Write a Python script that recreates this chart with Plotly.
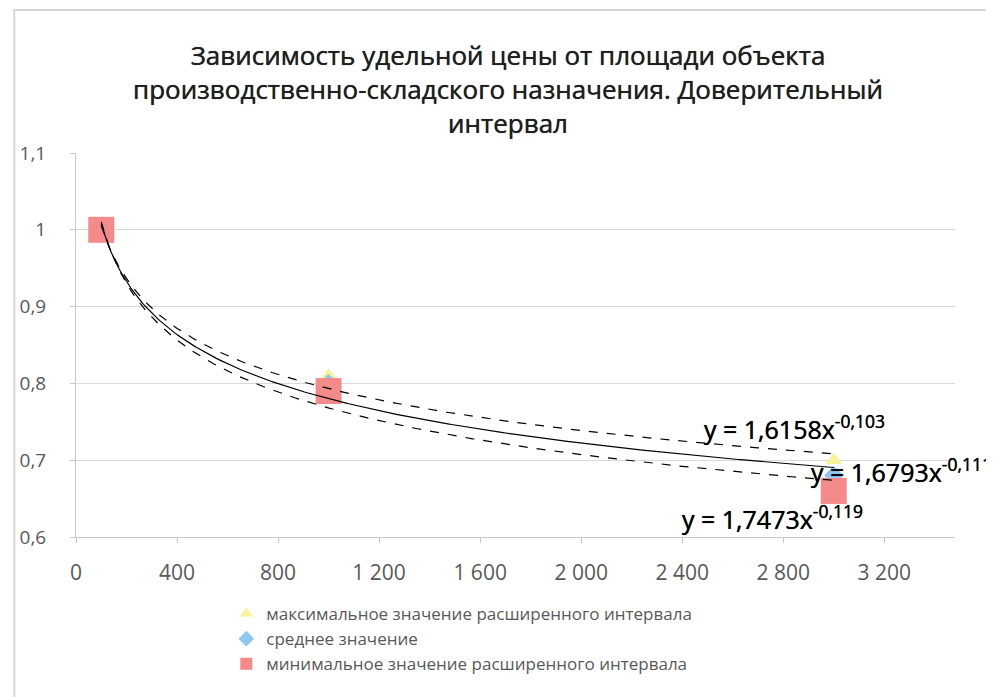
import numpy as np
import plotly.graph_objects as go

# ---- data ----
area = [100, 1000, 3000]
max_vals = [1.0, 0.81, 0.70]
mean_vals = [1.0, 0.80, 0.68]
min_vals = [1.0, 0.79, 0.66]

series_names = [
    "максимальное значение расширенного интервала",
    "среднее значение",
    "минимальное значение расширенного интервала",
]

# trend (power) coefficients y = a * x^b as shown on the chart
trend_a = [1.6158, 1.6793, 1.7473]
trend_b = [-0.103, -0.111, -0.119]
trend_labels = [
    "y = 1,6158x<sup>-0,103</sup>",
    "y = 1,6793x<sup>-0,111</sup>",
    "y = 1,7473x<sup>-0,119</sup>",
]

x_tick_vals = [0, 400, 800, 1200, 1600, 2000, 2400, 2800, 3200]
x_tick_text = ["0", "400", "800", "1 200", "1 600", "2 000", "2 400", "2 800", "3 200"]
y_tick_vals = [0.6, 0.7, 0.8, 0.9, 1.0, 1.1]
y_tick_text = ["0,6", "0,7", "0,8", "0,9", "1", "1,1"]

title_text = ("Зависимость удельной цены от площади объекта<br>"
              "производственно-складского назначения. Доверительный<br>"
              "интервал")

# ---- figure ----
W, H = 994, 697
OFF = 8  # page body margin
ML, MR, MT, MB = 72 - OFF, 994 - 955 + OFF, 153 - OFF, 697 - 537 + OFF
pw, ph = W - ML - MR, H - MT - MB

fig = go.Figure()

fig.add_trace(go.Scatter(x=area, y=max_vals, mode="markers", name=series_names[0],
                         marker=dict(symbol="triangle-up", size=15, color="#f6f39a")))
fig.add_trace(go.Scatter(x=area, y=mean_vals, mode="markers", name=series_names[1],
                         marker=dict(symbol="diamond", size=15, color="#8ec8f0")))
fig.add_trace(go.Scatter(x=area, y=min_vals, mode="markers", name=series_names[2],
                         marker=dict(symbol="square", size=26, color="#f48a8a")))

dashes = ["dash", "solid", "dash"]
xs = np.linspace(area[0], area[-1], 300)
for a, b, d in zip(trend_a, trend_b, dashes):
    fig.add_trace(go.Scatter(x=xs, y=a * xs ** b, mode="lines", showlegend=False,
                             hoverinfo="skip",
                             line=dict(color="black", width=1.2, dash=d)))

# equation labels
lab_pos = [(2480, 0.742), (2900, 0.686), (2390, 0.626)]
for (lx, ly), t in zip(lab_pos, trend_labels):
    fig.add_annotation(x=lx, y=ly, xref="x", yref="y", text=t, showarrow=False,
                       xanchor="left", yanchor="middle",
                       font=dict(family="Open Sans", size=25, color="#000000",
                                 shadow="0px 0px 0.7px #000000"))

# chart frame (screen px -> paper)
def px2paper_x(p):
    return (p - OFF - ML) / pw

def px2paper_y(p):
    return 1 - (p - OFF - MT) / ph

fig.add_shape(type="rect", xref="paper", yref="paper",
              x0=px2paper_x(10), x1=px2paper_x(1010),
              y0=px2paper_y(720), y1=px2paper_y(10),
              line=dict(color="#d6d6d6", width=2), fillcolor="rgba(0,0,0,0)", layer="below")

fig.update_layout(
    width=W, height=H,
    margin=dict(l=ML, r=MR, t=MT, b=MB),
    paper_bgcolor="white", plot_bgcolor="white",
    title=dict(text=title_text, x=(508 - OFF) / W, xanchor="center",
               y=1 - (65 - OFF) / H, yanchor="middle",
               font=dict(family="Open Sans", size=26, color="#1f1f1f",
                         shadow="0px 0px 0.7px #1f1f1f")),
    font=dict(family="Open Sans", color="#595959"),
    showlegend=True,
    legend=dict(x=px2paper_x(223), y=px2paper_y(596), xanchor="left", yanchor="top",
                font=dict(family="Open Sans", size=17, color="#595959"),
                bgcolor="rgba(0,0,0,0)", tracegroupgap=0, itemsizing="constant"),
    xaxis=dict(range=[0, 3480], tickvals=x_tick_vals, ticktext=x_tick_text,
               showgrid=False, zeroline=False, showline=True, linecolor="#c8c8c8",
               ticks="outside", ticklen=5, tickcolor="#c8c8c8",
               ticklabelstandoff=12,
               tickfont=dict(family="Open Sans", size=21, color="#595959")),
    yaxis=dict(range=[0.6, 1.1], tickvals=y_tick_vals, ticktext=y_tick_text,
               showgrid=True, gridcolor="#d9d9d9", zeroline=False,
               showline=True, linecolor="#c8c8c8",
               ticks="outside", ticklen=5, tickcolor="#c8c8c8",
               ticklabelstandoff=20,
               tickfont=dict(family="Open Sans", size=19, color="#595959")),
)

fig.write_html("out.html")
